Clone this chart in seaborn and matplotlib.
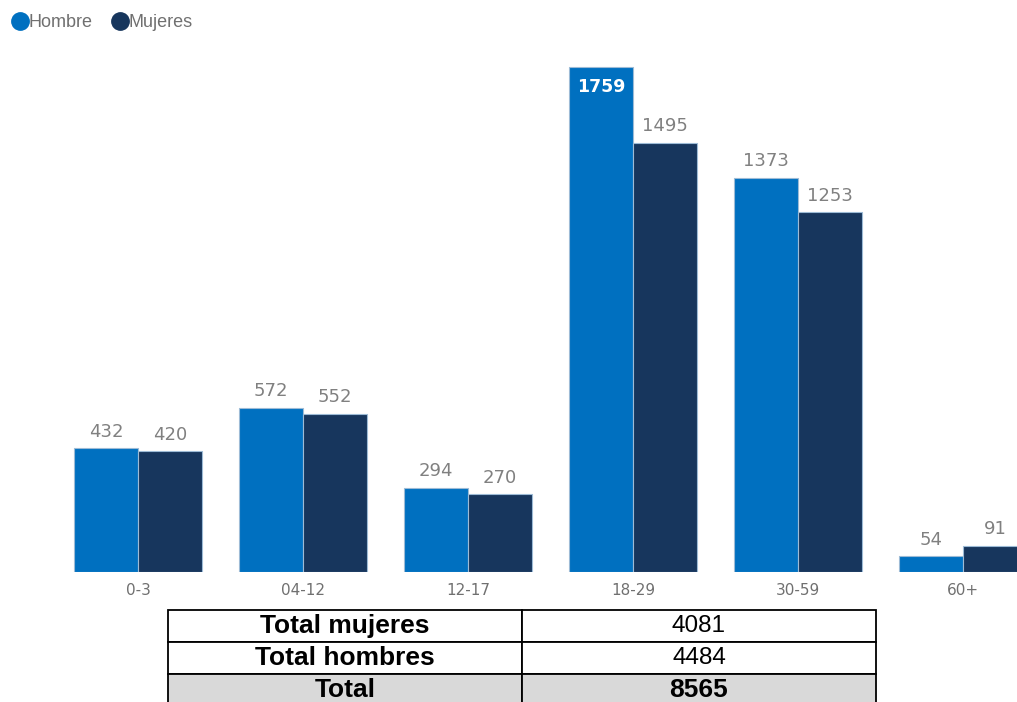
import matplotlib
matplotlib.use("Agg")
import matplotlib.pyplot as plt
from matplotlib.lines import Line2D
import seaborn as sns
import pandas as pd

grupos = ["0-3", "04-12", "12-17", "18-29", "30-59", "60+"]
hombres = [432, 572, 294, 1759, 1373, 54]
mujeres = [420, 552, 270, 1495, 1253, 91]
series = ["Hombre", "Mujeres"]
colores = ["#0070C0", "#17365D"]
tabla_filas = [["Total mujeres", "4081"], ["Total hombres", "4484"], ["Total", "8565"]]

sns.set_theme(style="white")
plt.rcParams["font.family"] = ["Liberation Sans", "DejaVu Sans"]

df = pd.DataFrame({
    "grupo": grupos * 2,
    "valor": hombres + mujeres,
    "sexo": [series[0]] * len(grupos) + [series[1]] * len(grupos),
})

W, H = 1017, 702
fig = plt.figure(figsize=(W / 100, H / 100), dpi=100)
ax = fig.add_axes([0, 1 - 572 / H, 1, (572 - 40) / H])

sns.barplot(data=df, x="grupo", y="valor", hue="sexo", palette=colores,
            width=0.776, dodge=True, legend=False, ax=ax, saturation=1,
            edgecolor="#9dbbd6", linewidth=0.8)

ax.set_xlim(-0.836, 5.327)
ax.set_ylim(0, 1853)
for s in ax.spines.values():
    s.set_visible(False)
ax.set_yticks([])
ax.set_xlabel("")
ax.set_ylabel("")
ax.tick_params(axis="x", length=0, pad=8, labelsize=11, labelcolor="#707070")
for t in ax.get_xticklabels():
    t.set_family("DejaVu Sans")

for cont in ax.containers:
    for p in cont:
        v = p.get_height()
        xc = p.get_x() + p.get_width() / 2
        if v > 1700:
            ax.text(xc, v - 38, f"{int(v)}", ha="center", va="top",
                    color="white", fontsize=12.5, fontweight="bold",
                    family="DejaVu Sans")
        else:
            ax.text(xc, v + 26, f"{int(v)}", ha="center", va="bottom",
                    color="#808080", fontsize=13, family="DejaVu Sans")

handles = [Line2D([0], [0], marker="o", linestyle="", markersize=12.5,
                  markerfacecolor=c, markeredgecolor=c) for c in colores]
fig.legend(handles, series, loc="upper left", bbox_to_anchor=(0.0, 0.995),
           frameon=False, ncol=2, handletextpad=0.0, columnspacing=1.0,
           handlelength=1.0, fontsize=13, labelcolor="#707070",
           borderaxespad=0.2)

# summary table
tx0, tx1 = 168, 876
ty0, ty1 = 610, 706
tax = fig.add_axes([tx0 / W, 1 - ty1 / H, (tx1 - tx0) / W, (ty1 - ty0) / H])
tax.axis("off")
tbl = tax.table(cellText=tabla_filas, bbox=[0, 0, 1, 1], cellLoc="center",
                colWidths=[(522 - tx0) / (tx1 - tx0), (tx1 - 522) / (tx1 - tx0)])
tbl.auto_set_font_size(False)
for (r, c), cell in tbl.get_celld().items():
    cell.set_edgecolor("black")
    cell.set_linewidth(1.3)
    txt = cell.get_text()
    txt.set_color("black")
    if c == 0 or r == 2:
        txt.set_fontweight("bold")
        txt.set_fontsize(19)
    else:
        txt.set_fontsize(17.5)
    if r == 2:
        cell.set_facecolor("#d9d9d9")
    else:
        cell.set_facecolor("white")

fig.savefig("out.png", dpi=100)
